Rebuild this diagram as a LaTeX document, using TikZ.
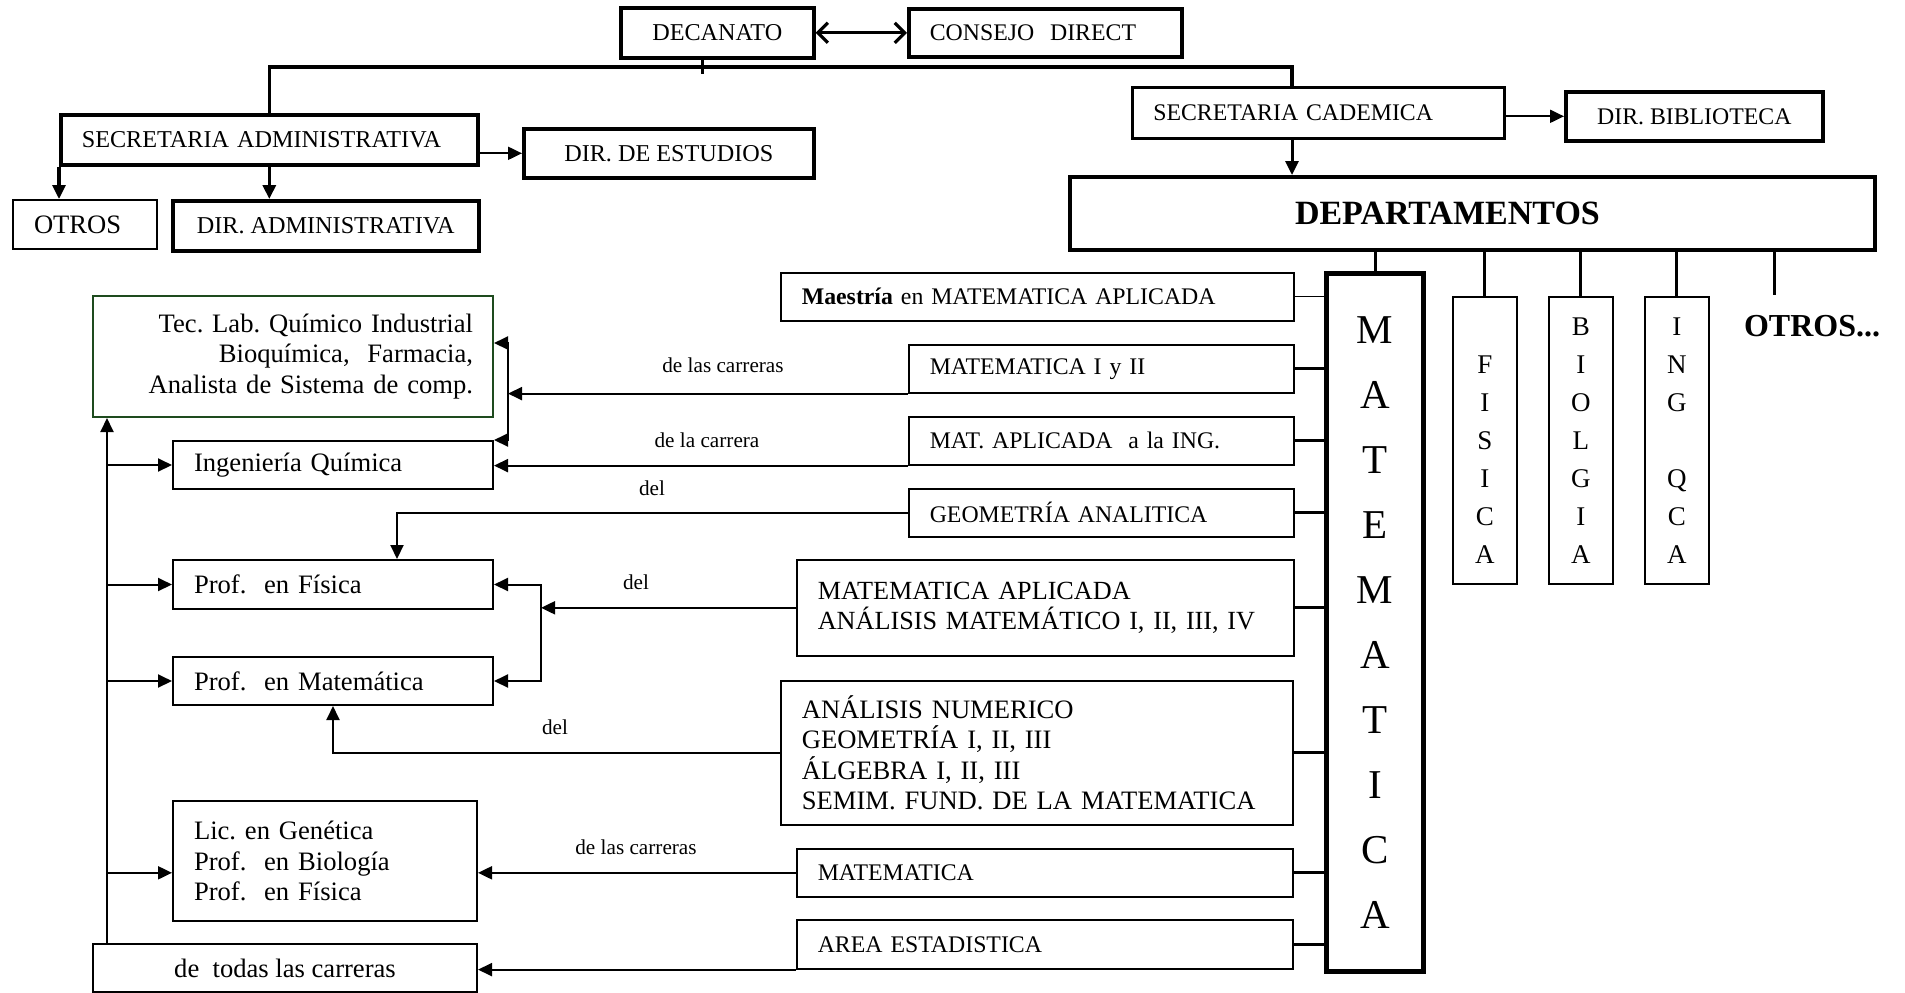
\documentclass[tikz,border=0pt]{standalone}
\usepackage{fontspec}
\setmainfont{Liberation Serif}
\usepackage{xcolor}
\usepackage{tikz}
\usetikzlibrary{arrows.meta}

\definecolor{labgreen}{RGB}{30,75,30}
\newcommand\sizeA{\fontsize{12.1}{14}\selectfont}
\newcommand\sizeB{\fontsize{11.9}{14}\selectfont}
\newcommand\sizeC{\fontsize{13.3}{15.2}\selectfont}
\newcommand\sizeS{\fontsize{10.6}{12}\selectfont}
\frenchspacing

\tikzset{
  unit/.style={draw, line width=0.8pt, anchor=north west, inner ysep=0pt, inner xsep=0pt},
  heavy/.style={line width=1.8pt},
  lefttext/.style={align=left, inner xsep=10.5pt},
  letters/.style={align=center, font=\fontsize{13.5}{19}\selectfont},
  link/.style={line width=1pt},
  trunk/.style={line width=1.6pt},
  feed/.style={line width=1.5pt},
  note/.style={font=\sizeS, inner sep=0pt}
}

\begin{document}
\begin{tikzpicture}[x=0.5pt, y=-0.5pt, >={Triangle[length=7pt,width=6.5pt]}]
\useasboundingbox (0,0) rectangle (1905,992);

% upper levels
\node[unit, heavy, minimum width=96.5pt, minimum height=25pt, font=\sizeA] (dec) at (619,6) {DECANATO};
\node[unit, heavy, lefttext, minimum height=24pt, text width=115.5pt, font=\sizeB] (cons) at (907,7) {CONSEJO~ DIRECT};
\node[unit, heavy, lefttext, minimum height=25pt, text width=187.5pt, font=\sizeA] (sa) at (59,113) {SECRETARIA ADMINISTRATIVA};
\node[unit, heavy, minimum width=145pt, minimum height=24.5pt, font=\sizeA] (dest) at (522,127) {DIR. DE ESTUDIOS};
\node[unit, lefttext, line width=1pt, minimum height=24.5pt, text width=51pt, font=\sizeC] (otros) at (12,199) {OTROS};
\node[unit, heavy, minimum width=153pt, minimum height=25pt, font=\sizeA] (dadm) at (171,199) {DIR. ADMINISTRATIVA};
\node[unit, lefttext, line width=1.3pt, minimum height=25.5pt, text width=165pt, font=\sizeB] (sc) at (1131,86) {SECRETARIA CADEMICA};
\node[unit, heavy, minimum width=128.5pt, minimum height=24.5pt, font=\sizeB] (bib) at (1564,90) {DIR. BIBLIOTECA};
\node[unit, line width=2pt, align=left, inner xsep=112.5pt, text width=177.5pt, minimum height=36.5pt, font=\fontsize{17}{20}\selectfont\bfseries] (dept) at (1068,175) {DEPARTAMENTOS};

% departments
\node[unit, line width=2.5pt, minimum width=48.5pt, minimum height=349pt, align=center, font=\fontsize{20.5}{32.5}\selectfont] (mat) at (1324,271) {M\\A\\T\\E\\M\\A\\T\\I\\C\\A};
\node[unit, letters, minimum width=32pt, minimum height=143.5pt] (fis) at (1452,296) {\phantom{F}\\F\\I\\S\\I\\C\\A};
\node[unit, letters, minimum width=32pt, minimum height=143.5pt] (bio) at (1548,296) {B\\I\\O\\L\\G\\I\\A};
\node[unit, letters, minimum width=32pt, minimum height=143.5pt] (ing) at (1644,296) {I\\N\\G\\\phantom{G}\\Q\\C\\A};
\node[inner sep=0pt, font=\fontsize{16}{19}\selectfont\bfseries] (more) at (1812,326) {OTROS...};

% subjects
\node[unit, lefttext, minimum height=24pt, text width=235.5pt, font=\sizeB] (maes) at (780,272) {\textbf{Maestría} en MATEMATICA APLICADA};
\node[unit, lefttext, minimum height=24pt, text width=171.5pt, font=\sizeB] (m12) at (908,344) {MATEMATICA I y II};
\node[unit, lefttext, minimum height=24pt, text width=171.5pt, font=\sizeB] (mai) at (908,416) {MAT. APLICADA~ a la ING.};
\node[unit, lefttext, minimum height=24pt, text width=171.5pt, font=\sizeB] (geo) at (908,488) {GEOMETRÍA ANALITICA};
\node[unit, lefttext, minimum height=48pt, text width=227.5pt, font=\fontsize{13.1}{15.2}\selectfont] (maa) at (796,559) {MATEMATICA APLICADA\\ANÁLISIS MATEMÁTICO I, II, III, IV};
\node[unit, lefttext, minimum height=72pt, text width=235pt, font=\sizeC] (anum) at (780,680) {ANÁLISIS NUMERICO\\GEOMETRÍA I, II, III\\ÁLGEBRA I, II, III\\SEMIM. FUND. DE LA MATEMATICA};
\node[unit, lefttext, minimum height=24pt, text width=227pt, font=\sizeB] (mbot) at (796,848) {MATEMATICA};
\node[unit, lefttext, minimum height=24.5pt, text width=227pt, font=\sizeB] (area) at (796,919) {AREA ESTADISTICA};

% careers
\node[unit, draw=labgreen, line width=1pt, align=right, inner xsep=10pt, text width=180pt, minimum height=60.5pt, font=\sizeC] (tec) at (92,295) {Tec. Lab. Químico Industrial\\Bioquímica,~ Farmacia,\\Analista de Sistema de comp.};
\node[unit, lefttext, line width=1pt, minimum height=24pt, text width=139pt, font=\sizeC] (iq) at (172,440) {Ingeniería Química};
\node[unit, lefttext, line width=1pt, minimum height=24.5pt, text width=139pt, font=\sizeC] (pf) at (172,559) {Prof.~ en Física};
\node[unit, lefttext, line width=1pt, minimum height=24pt, text width=139pt, font=\sizeC] (pm) at (172,656) {Prof.~ en Matemática};
\node[unit, lefttext, line width=1pt, minimum height=60pt, text width=131pt, font=\sizeC] (lic) at (172,800) {Lic. en Genética\\Prof.~ en Biología\\Prof.~ en Física};
\node[unit, line width=1pt, minimum width=192pt, minimum height=24pt, font=\sizeC] (todas) at (92,943) {de~ todas las carreras};

% labels
\node[note] (lcar1) at (723,365) {de las carreras};
\node[note] (lcar2) at (707,440) {de la carrera};
\node[note] (ldel1) at (652,488) {del};
\node[note] (ldel2) at (636,582) {del};
\node[note] (ldel3) at (555,727) {del};
\node[note] (lcar3) at (636,847) {de las carreras};

% top connectors
\draw[<->, trunk, >={Straight Barb[length=5pt,width=10pt]}] (dec) -- (cons);
\coordinate (fork) at (1292,67);
\draw[trunk] (sa.north) |- (fork) -- (fork |- sc.north);
\draw[trunk] ([xshift=-7.5pt]dec.south) -- ++(0,14);
\draw[->, trunk] (sa.south west) -- (sa.south west |- otros.north);
\draw[->, trunk] (sa.south) -- (sa.south |- dadm.north);
\draw[->, link] (sa.east |- dest.west) -- (dest.west);
\draw[->, link] (sc.east |- bib.west) -- (bib.west);
\draw[->, feed] (fork |- sc.south) -- (fork |- dept.north);

% departments
\foreach \d in {mat,fis,bio,ing} \draw[feed] (dept.south -| \d.north) -- (\d.north);
\coordinate (otherstub) at (1774,295);
\draw[feed] (dept.south -| otherstub) -- (otherstub);

% subjects into MATEMATICA
\draw[line width=0.6pt] (maes.east) -- (maes.east -| mat.west);
\foreach \s in {m12,mai,geo,maa,anum,mbot,area} \draw[feed] (\s.east) -- (\s.east -| mat.west);

% subjects to careers
\coordinate (bar1) at (508,343);
\draw[->, link] (m12.south west) -- (m12.south west -| bar1);
\draw[<->, link] (tec.east |- bar1) -- (bar1) -- (bar1 |- iq.north) -- (iq.north east);
\draw[->, link] (mai.south west) -- (mai.south west -| iq.east);
\draw[->, link] (geo.west) -| ([xshift=32pt]pf.north);
\coordinate (bar2) at (541,583);
\draw[->, link] (maa.west) -- (maa.west -| bar2);
\draw[<->, link] (pf.east) -- (pf.east -| bar2) -- (pm.east -| bar2) -- (pm.east);
\draw[->, link] (anum.west) -| (pm.south);
\draw[->, link] (mbot.west) -- (mbot.west -| lic.east);
\draw[->, link] (area.south west) -- (area.south west -| todas.east);
\coordinate (trunk) at ([xshift=7.5pt]todas.north west);
\draw[->, link] (trunk) -- (trunk |- tec.south);
\foreach \c in {iq,pf,pm} \draw[->, link] (trunk |- \c.west) -- (\c.west);
\draw[->, link] (trunk |- mbot.west) -- (mbot.west -| lic.west);
\end{tikzpicture}
\end{document}
